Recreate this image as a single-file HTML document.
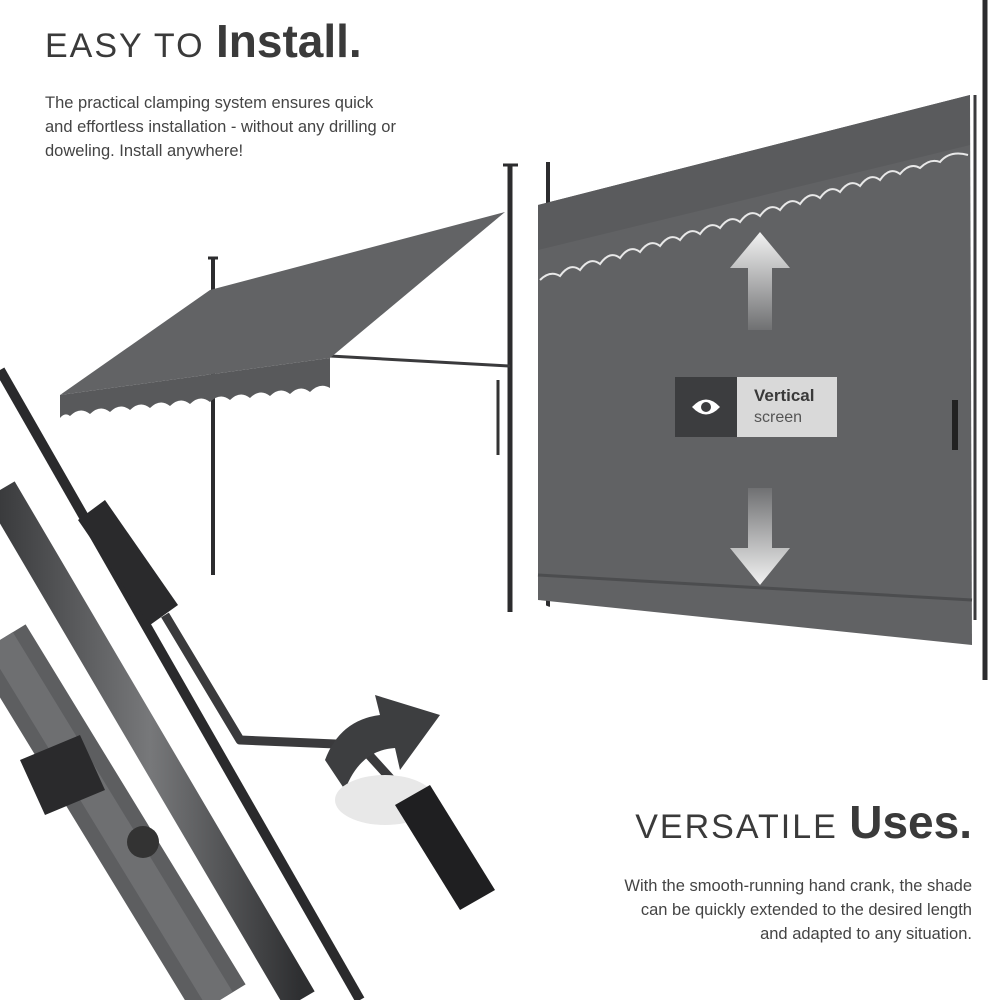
<!DOCTYPE html>
<html><head><meta charset="utf-8"><style>
html,body{margin:0;padding:0;background:#fff;}
body{width:1000px;height:1000px;position:relative;overflow:hidden;font-family:"Liberation Sans",sans-serif;}
.t{position:absolute;color:#3a3a3a;}
</style></head><body>
<svg width="1000" height="1000" style="position:absolute;left:0;top:0">
<defs>
<linearGradient id="ag" x1="0" y1="0" x2="0" y2="1"><stop offset="0" stop-color="#f2f2f2"/><stop offset="1" stop-color="#f2f2f2" stop-opacity="0.1"/></linearGradient>
<linearGradient id="ag2" x1="0" y1="1" x2="0" y2="0"><stop offset="0" stop-color="#f2f2f2"/><stop offset="1" stop-color="#f2f2f2" stop-opacity="0.1"/></linearGradient>
<linearGradient id="pg" x1="0" y1="0" x2="1" y2="0"><stop offset="0" stop-color="#3a3b3d"/><stop offset="0.5" stop-color="#77787a"/><stop offset="1" stop-color="#2e2f31"/></linearGradient>
</defs>
<!-- awning 1 poles -->
<line x1="213" y1="258" x2="213" y2="575" stroke="#2c2c2e" stroke-width="4"/>
<line x1="208" y1="258" x2="218" y2="258" stroke="#2c2c2e" stroke-width="3"/>
<line x1="510" y1="165" x2="510" y2="612" stroke="#2c2c2e" stroke-width="5"/>
<line x1="503" y1="165" x2="518" y2="165" stroke="#2c2c2e" stroke-width="3"/>
<line x1="330" y1="356" x2="510" y2="366" stroke="#3a3a3c" stroke-width="3"/>
<line x1="498" y1="380" x2="498" y2="455" stroke="#333" stroke-width="3"/>
<!-- canopy -->
<polygon points="60,395 210,290 505,212 330,358" fill="#626365"/>
<path d="M60,395 L330,358 L330,388 Q320,382 310,392 Q300,384 290,394 Q280,386 270,396 Q260,388 250,398 Q240,390 230,400 Q220,392 210,402 Q200,394 190,404 Q180,396 170,406 Q160,398 150,408 Q140,400 130,410 Q120,402 110,412 Q100,404 90,414 Q80,406 70,416 Q65,412 60,418 Z" fill="#58595b"/>
<!-- vertical screen -->
<line x1="548" y1="162" x2="548" y2="610" stroke="#2c2c2e" stroke-width="4"/>
<polygon points="538,205 970,95 972,645 538,600" fill="#616264"/>
<polygon points="538,205 970,95 970,145 538,250" fill="#5a5b5d"/>
<path d="M540,280 Q550,270 560,276 Q570,262 580,270 Q590,256 600,264 Q610,250 620,258 Q630,244 640,252 Q650,238 660,246 Q670,232 680,240 Q690,226 700,234 Q710,220 720,228 Q730,214 740,222 Q750,208 760,216 Q770,202 780,210 Q790,196 800,204 Q810,190 820,198 Q830,184 840,192 Q850,178 860,186 Q870,172 880,180 Q890,166 900,174 Q910,162 920,168 Q930,158 940,162 Q950,150 968,155" fill="none" stroke="#e8e8e8" stroke-width="2"/>
<path d="M540,600 Q550,612 560,604 Q570,616 580,608 Q590,620 600,612 Q610,624 620,616 Q630,628 640,620 Q650,630 660,622 Q670,632 680,624 Q690,634 700,626 Q710,636 720,628 Q730,638 740,630 Q750,640 760,632 Q770,642 780,634 Q790,644 800,636 Q810,646 820,638 Q830,648 840,640 Q850,650 860,642 Q870,652 880,644 Q890,654 900,646 Q910,656 920,648 Q930,658 940,650 Q950,660 972,655 L972,700 L540,700 Z" fill="#fff"/>
<line x1="538" y1="575" x2="972" y2="600" stroke="#4c4d4f" stroke-width="3"/>
<line x1="985" y1="0" x2="985" y2="680" stroke="#2c2c2e" stroke-width="5"/>
<line x1="975" y1="95" x2="975" y2="620" stroke="#3a3a3c" stroke-width="3"/>
<line x1="955" y1="400" x2="955" y2="450" stroke="#222" stroke-width="6"/>
<!-- arrows -->
<polygon points="760,232 790,268 772,268 772,330 748,330 748,268 730,268" fill="url(#ag)"/>
<polygon points="760,585 790,548 772,548 772,488 748,488 748,548 730,548" fill="url(#ag2)"/>
<!-- label -->
<rect x="675" y="377" width="62" height="60" fill="#3c3d3f"/>
<rect x="737" y="377" width="100" height="60" fill="#d9d9d9"/>
<path d="M692,407 Q706,392 720,407 Q706,422 692,407 Z" fill="#fff"/>
<circle cx="706" cy="407" r="5" fill="#3c3d3f"/>
<!-- bottom-left poles -->
<line x1="0" y1="370" x2="360" y2="1000" stroke="#2a2a2c" stroke-width="10"/>
<line x1="0" y1="490" x2="300" y2="1000" stroke="url(#pg)" stroke-width="34"/>
<line x1="0" y1="640" x2="220" y2="1000" stroke="#5d5e60" stroke-width="60"/>
<line x1="0" y1="640" x2="220" y2="1000" stroke="#6e6f71" stroke-width="30"/>
<polygon points="20,760 80,735 105,790 45,815" fill="#2a2a2c"/>
<circle cx="143" cy="842" r="16" fill="#333"/>
<!-- crank -->
<polygon points="78,520 105,500 178,605 150,625" fill="#2a2a2c"/>
<path d="M165,615 L240,740 L360,745 L410,800" fill="none" stroke="#3a3a3c" stroke-width="9" stroke-linejoin="round"/>
<path d="M325,760 Q340,720 380,715 L375,695 L440,715 L400,770 L395,748 Q360,750 345,790 Z" fill="#3d3e40"/>
<ellipse cx="385" cy="800" rx="50" ry="25" fill="#e8e8e8"/>
<polygon points="395,805 430,785 495,890 460,910" fill="#1f1f21"/>
</svg>
<div class="t" style="left:45px;top:14px;white-space:nowrap"><span style="font-size:34px;letter-spacing:2px;color:#3a3a3a">EASY TO </span><span style="font-size:46px;font-weight:bold;color:#3a3a3a">Install.</span></div>
<div class="t" style="left:45px;top:91px;font-size:16.5px;line-height:24px;color:#444">The practical clamping system ensures quick<br>and effortless installation - without any drilling or<br>doweling. Install anywhere!</div>
<div class="t" style="left:754px;top:386px;font-size:17px;font-weight:bold;color:#3a3a3a">Vertical</div>
<div class="t" style="left:754px;top:409px;font-size:16px;color:#555">screen</div>
<div class="t" style="right:28px;top:795px;white-space:nowrap;text-align:right"><span style="font-size:34px;letter-spacing:2px">VERSATILE </span><span style="font-size:46px;font-weight:bold">Uses.</span></div>
<div class="t" style="right:28px;top:874px;font-size:16.5px;line-height:24px;text-align:right;color:#444">With the smooth-running hand crank, the shade<br>can be quickly extended to the desired length<br>and adapted to any situation.</div>
</body></html>
